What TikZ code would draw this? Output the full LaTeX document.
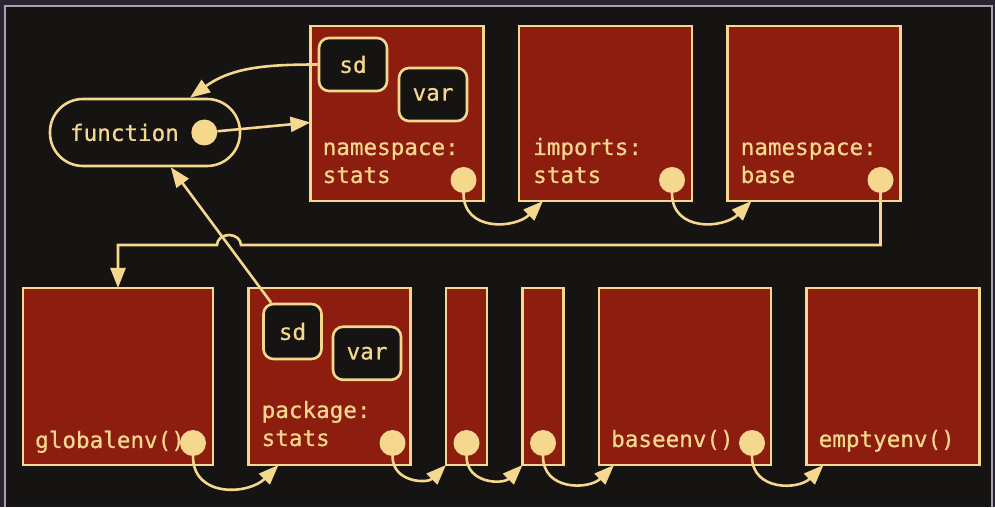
\documentclass[tikz,border=0pt]{standalone}
\usepackage{fontspec}
\setmonofont{DejaVu Sans Mono}[FakeBold=0.6]
\usepackage{tikz}
\usetikzlibrary{arrows.meta, positioning, calc}
\definecolor{bgblack}{HTML}{151413}
\definecolor{envred}{HTML}{8C1D0F}
\definecolor{cream}{HTML}{F5D88E}
\definecolor{rim}{HTML}{2A2331}
\definecolor{rimline}{HTML}{A7A1B0}
\tikzstyle{envbox} = [draw=cream, fill=envred, line width=2.6pt, outer sep=0pt, inner sep=0pt, minimum width=173pt, minimum height=175pt]
\tikzstyle{binding} = [draw=cream, fill=bgblack, line width=2.6pt, rounded corners=10pt, minimum width=68pt, minimum height=53pt]
\tikzstyle{dot} = [circle, fill=cream, minimum size=26pt, inner sep=0pt]
\tikzstyle{envname} = [inner sep=0pt, anchor=base west, align=left]
\tikzstyle{arrow} = [draw=cream, line width=2.6pt, -{Triangle[length=20pt, width=15pt]}]

\begin{document}
\begin{tikzpicture}[x=1pt, y=1pt, node distance=35.5pt, text=cream, font=\ttfamily\fontsize{22.6}{28}\selectfont]
    % frame
    \fill[rim] (0,0) rectangle (995,507);
    \fill[bgblack] (5,0) rectangle (992,501);
    \draw[rimline, line width=1.8pt] (5,0) |- (992,501) -- (992,0);

    % top row: the function and its environments
    \node[draw=cream, fill=bgblack, line width=2.6pt, rounded corners=33pt, minimum width=190pt, minimum height=67pt, text width=150pt, inner xsep=20pt] (fun) at (145,374.5) {function};
    \node[dot] (fundot) at ([xshift=-37pt]fun.east) {};

    \node[envbox] (nsstats) at (397,393.5) {};
    \node[envbox, right=of nsstats] (impstats) {};
    \node[envbox, right=of impstats] (nsbase) {};
    \node[envname] (nsstatsname) at ([shift={(12,18)}]nsstats.south west) {namespace:\\stats};
    \node[envname] (impstatsname) at ([shift={(14,18)}]impstats.south west) {imports:\\stats};
    \node[envname] (nsbasename) at ([shift={(13,18)}]nsbase.south west) {namespace:\\base};
    \node[binding] (sdns) at (353,442.5) {sd};
    \node[binding] (varns) at (433,412.5) {var};
    \node[dot] (nsstatsdot) at ([shift={(-20,21)}]nsstats.south east) {};
    \node[dot] (impstatsdot) at ([shift={(-20,21)}]impstats.south east) {};
    \node[dot] (nsbasedot) at ([shift={(-20,21)}]nsbase.south east) {};

    % bottom row: the search path
    \node[envbox, minimum width=190pt, minimum height=177pt] (glob) at (118,130.5) {};
    \node[envbox, minimum width=162pt, minimum height=177pt, right=of glob] (pkg) {};
    \node[envbox, minimum width=41pt, minimum height=177pt, right=of pkg] (att1) {};
    \node[envbox, minimum width=41pt, minimum height=177pt, right=of att1] (att2) {};
    \node[envbox, minimum width=172pt, minimum height=177pt, right=of att2] (base) {};
    \node[envbox, minimum height=177pt, right=of base] (empty) {};
    \node[envname] (globname) at ([shift={(12,17)}]glob.south west) {globalenv()};
    \node[envname] (pkgname) at ([shift={(13,19)}]pkg.south west) {package:\\stats};
    \node[envname] (basename) at ([shift={(12,18)}]base.south west) {baseenv()};
    \node[envname] (emptyname) at ([shift={(12,18)}]empty.south west) {emptyenv()};
    \node[binding, minimum width=58pt, minimum height=55pt] (sdpkg) at (292.5,175.5) {sd};
    \node[binding] (varpkg) at (367,153.7) {var};
    \node[dot] (globdot) at ([shift={(-20,22)}]glob.south east) {};
    \node[dot] (pkgdot) at ([shift={(-18,22)}]pkg.south east) {};
    \node[dot] (att1dot) at ([yshift=22pt]att1.south) {};
    \node[dot] (att2dot) at ([yshift=22pt]att2.south) {};
    \node[dot] (basedot) at ([shift={(-19,22)}]base.south east) {};

    % bindings and enclosures
    \draw[arrow] (sdns.west) to[out=180, in=36] ([xshift=45pt]fun.north);
    \draw[arrow] (fundot) -- ([yshift=-9pt]nsstats.west);
    \draw[arrow] (sdpkg) -- (fun);

    % parents
    \coordinate (hop) at (229,262);
    \draw[arrow] (nsbasedot) -- (nsbasedot |- hop) -- ([xshift=12pt]hop) arc[start angle=0, end angle=180, x radius=12pt, y radius=10pt] -| (glob.north);
    \draw[arrow] (nsstatsdot) to[out=-90, in=-135, looseness=1.25] ([xshift=24pt]impstats.south west);
    \draw[arrow] (impstatsdot) to[out=-90, in=-135, looseness=1.25] ([xshift=24pt]nsbase.south west);
    \draw[arrow] (globdot) to[out=-90, in=-135, looseness=1.25] ([xshift=30pt]pkg.south west);
    \draw[arrow] (pkgdot) to[out=-90, in=-135, looseness=1.25] (att1.south west);
    \draw[arrow] (att1dot) to[out=-90, in=-135, looseness=1.25] (att2.south west);
    \draw[arrow] (att2dot) to[out=-90, in=-135, looseness=1.25] ([xshift=15pt]base.south west);
    \draw[arrow] (basedot) to[out=-90, in=-135, looseness=1.25] ([xshift=17pt]empty.south west);
\end{tikzpicture}
\end{document}
